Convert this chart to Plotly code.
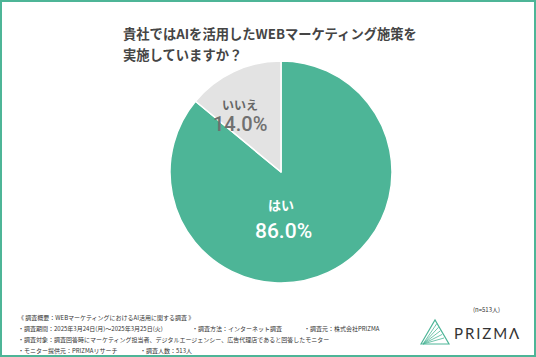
import plotly.graph_objects as go

W, H = 536, 357
categories = ["はい", "いいえ"]
values = [86.0, 14.0]
colors = ["#4DB597", "#E3E3E3"]
title_lines = ["貴社ではAIを活用したWEBマーケティング施策を", "実施していますか？"]
n_label = "(n=513人)"
notes = [
    ("《 調査概要：WEBマーケティングにおけるAI活用に関する調査 》", 16, 317),
    ("・調査期間：2025年3月24日(月)～2025年3月25日(火)", 16, 328),
    ("・調査方法：インターネット調査", 190, 328),
    ("・調査元：株式会社PRIZMA", 302, 328),
    ("・調査対象：調査回答時にマーケティング担当者、デジタルエージェンシー、広告代理店であると回答したモニター", 16, 339),
    ("・モニター提供元：PRIZMAリサーチ", 16, 350),
    ("・調査人数：513人", 138, 350),
]

def px(x):
    return x / W

def py(y):
    return 1 - y / H

fig = go.Figure(go.Pie(
    labels=categories, values=values, sort=False, direction="clockwise",
    marker=dict(colors=colors, line=dict(color="white", width=1.5)),
    textinfo="none", hoverinfo="skip", showlegend=False,
    domain=dict(x=[px(170), px(392)], y=[py(283), py(61)]),
))

FONT = "Noto Sans CJK JP"
ann = []
for i, t in enumerate(title_lines):
    ann.append(dict(text=f"<b>{t}</b>", x=px(121), y=py(33 + i * 21), xanchor="left", yanchor="middle",
                    showarrow=False, font=dict(family=FONT, size=13.3, color="#454545")))
# slice labels
ann.append(dict(text=f"<b>{categories[0]}</b>", x=px(281), y=py(204), showarrow=False,
                font=dict(family=FONT, size=13, color="white")))
ann.append(dict(text=f"{values[0]:.1f}%", x=px(283), y=py(231), showarrow=False,
                font=dict(family="Roboto", size=21, color="white", weight=500)))
ann.append(dict(text=f"<b>{categories[1]}</b>", x=px(240), y=py(94), showarrow=False,
                font=dict(family=FONT, size=12, color="#666666")))
ann.append(dict(text=f"{values[1]:.1f}%", x=px(240), y=py(124), showarrow=False,
                font=dict(family="Roboto", size=20, color="#707070", weight=500)))
for t, x, y in notes:
    ann.append(dict(text=t, x=px(x), y=py(y), xanchor="left", yanchor="middle", showarrow=False,
                    font=dict(family=FONT, size=6, color="#333333")))
ann.append(dict(text=n_label, x=px(502), y=py(309), xanchor="right", yanchor="middle", showarrow=False,
                font=dict(family=FONT, size=6, color="#333333")))
ann.append(dict(text="P\u2009R\u2009I\u2009Z\u2009M\u2009Λ", x=px(452), y=py(333), xanchor="left", yanchor="middle",
                showarrow=False, font=dict(family="Lato", size=15, color="#333333")))

teal = "#4DB597"
shapes = [dict(type="rect", xref="paper", yref="paper", x0=px(1), y0=py(356), x1=px(535), y1=py(1),
               line=dict(color=teal, width=2), fillcolor="rgba(0,0,0,0)")]
# logo triangle
apex = (435, 320)
base_l, base_r = (421, 344), (449, 344)
shapes.append(dict(type="path", xref="paper", yref="paper",
                   path=f"M {px(base_l[0])} {py(base_l[1])} L {px(apex[0])} {py(apex[1])} L {px(base_r[0])} {py(base_r[1])} Z",
                   line=dict(color=teal, width=1.2), fillcolor="rgba(0,0,0,0)"))
for k in range(1, 6):
    shapes.append(dict(type="line", xref="paper", yref="paper", x0=px(base_l[0] + 2), y0=py(base_l[1]),
                       x1=px(apex[0] + k * 1.8), y1=py(apex[1] + k * 3.6), line=dict(color=teal, width=0.8)))

fig.update_layout(width=W, height=H, margin=dict(l=0, r=0, t=0, b=0),
                  paper_bgcolor="white", plot_bgcolor="white",
                  annotations=ann, shapes=shapes, showlegend=False)
fig.write_html("out.html", config={"displayModeBar": False},
               post_script="document.body.style.margin='0';document.body.style.overflow='hidden';")
